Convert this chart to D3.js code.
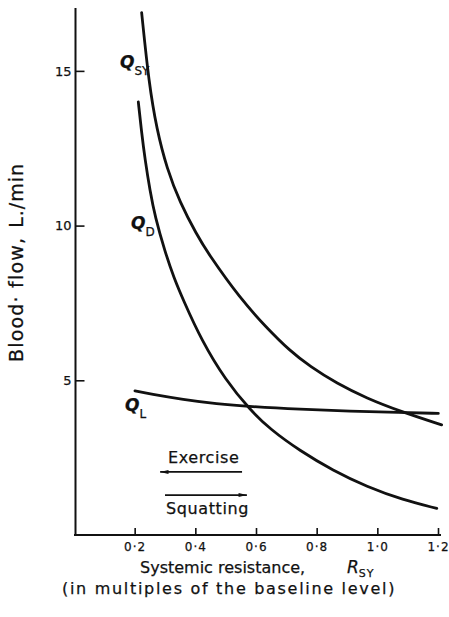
<!DOCTYPE html>
<html>
<head>
<meta charset="utf-8">
<script src="https://cdn.jsdelivr.net/npm/d3@7"></script>
<style>
body { margin: 0; background: #fff; }
text { font-family: "DejaVu Sans", sans-serif; fill: #111; stroke: #111; stroke-width: 0.25px; }
</style>
</head>
<body>
<div id="field"></div>
<script>
// values (resistance in multiples of baseline, flow in L/min)
const qsyR    = [0.223, 0.247, 0.273, 0.306, 0.349, 0.405, 0.442, 0.547, 0.635, 0.712, 0.778, 0.866, 0.965, 1.075, 1.212];
const qsyFlow = [16.88, 14.6, 13.1, 11.85, 10.75, 9.7, 9.1, 7.65, 6.7, 5.95, 5.45, 4.9, 4.42, 4.0, 3.56];

const qdR    = [0.212, 0.223, 0.234, 0.251, 0.267, 0.300, 0.330, 0.360, 0.420, 0.500, 0.580, 0.646, 0.745, 0.854, 0.965, 1.085, 1.196];
const qdFlow = [14.0, 13.0, 12.15, 11.1, 10.3, 9.15, 8.3, 7.6, 6.3, 5.0, 4.05, 3.42, 2.72, 2.08, 1.56, 1.13, 0.86];

const qlR    = [0.201, 0.251, 0.360, 0.470, 0.580, 0.745, 0.910, 1.075, 1.201];
const qlFlow = [4.66, 4.56, 4.38, 4.24, 4.15, 4.06, 4.00, 3.96, 3.93];

const xTicks = [0.2, 0.4, 0.6, 0.8, 1.0, 1.2];
const yTicks = [5, 10, 15];

const width = 449;
const height = 617;

const xScale = d3.scaleLinear().domain([0, 1.2]).range([74, 438]);
const yScale = d3.scaleLinear().domain([0, 17]).range([535, 9]);

const svg = d3.select("#field")
    .append("svg")
    .attr("width", width)
    .attr("height", height);

// axes

const xAxis = d3.axisBottom(xScale)
    .tickValues(xTicks)
    .tickSize(-7)
    .tickSizeOuter(0)
    .tickPadding(7)
    .tickFormat(function(d) { return d3.format(".1f")(d).replace(".", "\u00b7"); });

const xg = svg.append("g")
    .attr("transform", "translate(0," + yScale(0) + ")")
    .call(xAxis);
xg.select(".domain").remove();
xg.append("line")
    .attr("x1", 74).attr("x2", 441)
    .attr("stroke", "#111").attr("stroke-width", 2);
xg.selectAll(".tick line").attr("stroke", "#111").attr("stroke-width", 1.6);
xg.selectAll(".tick text")
    .style("font-size", "12px")
    .style("letter-spacing", "1px")
    .attr("fill", "#111");

const yAxis = d3.axisLeft(yScale)
    .tickValues(yTicks)
    .tickSize(-9)
    .tickSizeOuter(0)
    .tickPadding(4);

const yg = svg.append("g")
    .attr("transform", "translate(75.5,0)")
    .call(yAxis);
yg.select(".domain").remove();
yg.append("line")
    .attr("y1", yScale(0) + 1).attr("y2", 8)
    .attr("stroke", "#111").attr("stroke-width", 2);
yg.selectAll(".tick line").attr("stroke", "#111").attr("stroke-width", 1.6);
yg.selectAll(".tick text")
    .style("font-size", "13px")
    .attr("fill", "#111");

// curves

const line = d3.line()
    .x(function(d) { return xScale(d[0]); })
    .y(function(d) { return yScale(d[1]); })
    .curve(d3.curveBasis);

const series = [
    d3.zip(qsyR, qsyFlow),
    d3.zip(qdR, qdFlow),
    d3.zip(qlR, qlFlow)
];

svg.append("g").selectAll("path")
    .data(series)
    .enter().append("path")
    .attr("d", line)
    .attr("fill", "none")
    .attr("stroke", "#111")
    .attr("stroke-width", 2.8)
    .attr("stroke-linecap", "round");

// curve labels

function qLabel(x, y, sub) {
    const t = svg.append("text")
        .attr("x", x)
        .attr("y", y);
    t.append("tspan")
        .style("font-size", "17px")
        .style("font-style", "italic")
        .style("font-weight", "bold")
        .text("Q");
    t.append("tspan")
        .attr("dy", 7)
        .style("font-size", "12px")
        .text(sub);
}

qLabel(120, 68, "SY");
qLabel(131, 229, "D");
qLabel(125, 411, "L");

// direction arrows

svg.append("defs").append("marker")
    .attr("id", "head")
    .attr("viewBox", "0 0 10 6")
    .attr("refX", 10)
    .attr("refY", 3)
    .attr("markerWidth", 10)
    .attr("markerHeight", 5)
    .attr("markerUnits", "userSpaceOnUse")
    .attr("orient", "auto")
    .append("path")
    .attr("d", "M0,0.6L10,3L0,5.4Z")
    .attr("fill", "#111");

svg.append("line")
    .attr("x1", xScale(0.554)).attr("x2", xScale(0.284))
    .attr("y1", yScale(2.04)).attr("y2", yScale(2.04))
    .attr("stroke", "#111").attr("stroke-width", 1.6)
    .attr("marker-end", "url(#head)");

svg.append("line")
    .attr("x1", xScale(0.30)).attr("x2", xScale(0.57))
    .attr("y1", yScale(1.29)).attr("y2", yScale(1.29))
    .attr("stroke", "#111").attr("stroke-width", 1.6)
    .attr("marker-end", "url(#head)");

svg.append("text")
    .attr("x", 168).attr("y", 463)
    .style("font-size", "16px")
    .style("letter-spacing", "0.6px")
    .text("Exercise");

svg.append("text")
    .attr("x", 166).attr("y", 514)
    .style("font-size", "16px")
    .style("letter-spacing", "0.6px")
    .text("Squatting");

// axis titles

const xTitle = svg.append("text")
    .attr("x", 140).attr("y", 573)
    .style("font-size", "16px");
xTitle.append("tspan").text("Systemic resistance,");
xTitle.append("tspan")
    .attr("x", 347)
    .style("font-style", "italic")
    .style("font-size", "17px")
    .text("R");
xTitle.append("tspan")
    .attr("dy", 4)
    .style("font-size", "11px")
    .style("letter-spacing", "1px")
    .text("SY");

svg.append("text")
    .attr("x", 62).attr("y", 594)
    .style("font-size", "16px")
    .style("letter-spacing", "1.7px")
    .text("(in multiples of the baseline level)");

svg.append("text")
    .attr("transform", "translate(23,362) rotate(-90)")
    .style("font-size", "19px")
    .style("letter-spacing", "1.2px")
    .text("Blood\u00b7 flow,");

svg.append("text")
    .attr("transform", "translate(23,163) rotate(-90)")
    .attr("text-anchor", "end")
    .style("font-size", "19px")
    .style("letter-spacing", "1px")
    .text("L./min");
</script>
</body>
</html>
